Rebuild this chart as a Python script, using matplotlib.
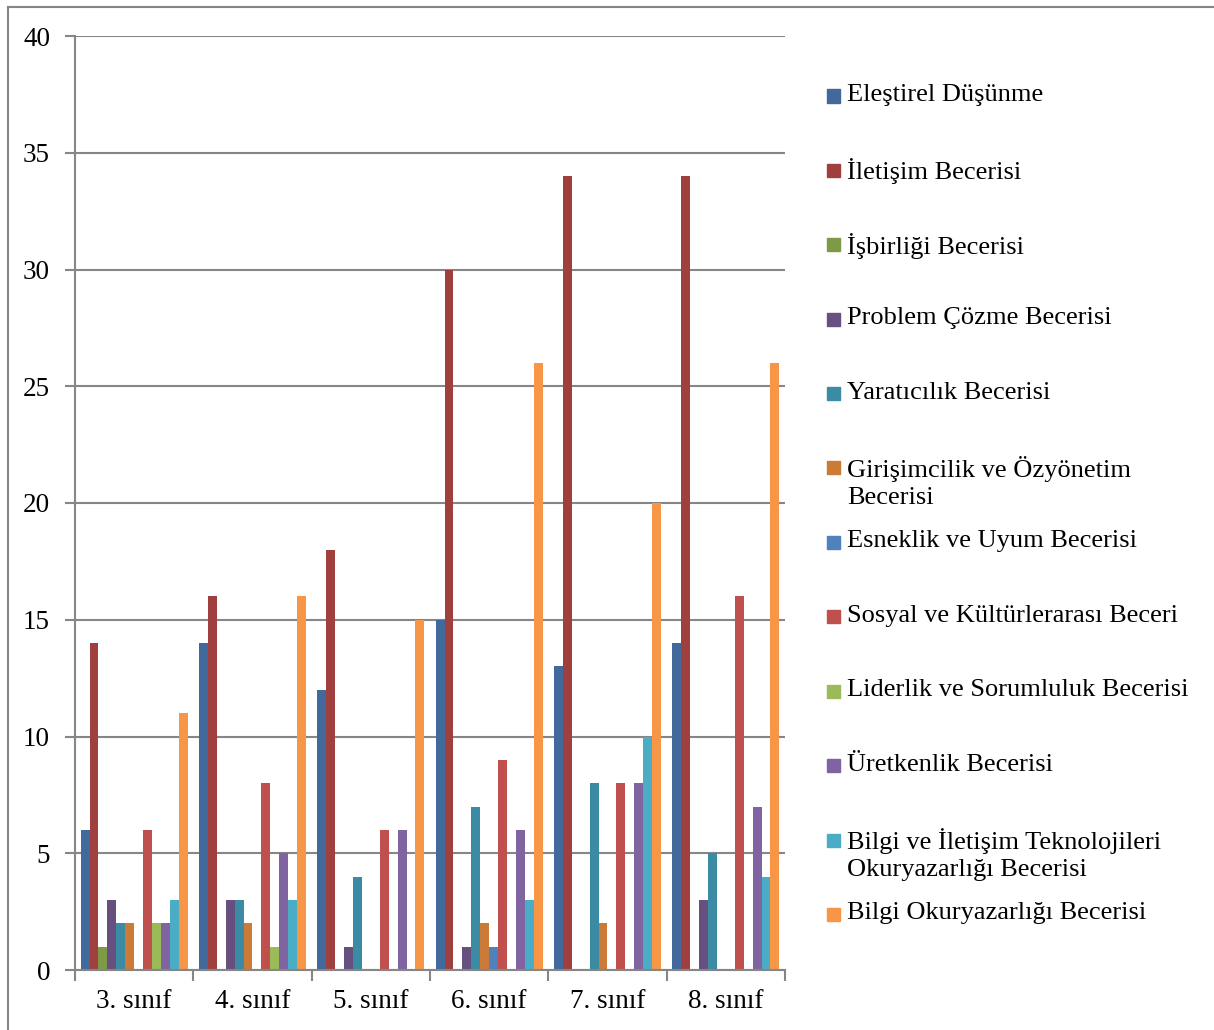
import numpy as np
import matplotlib.pyplot as plt
from matplotlib.patches import Rectangle
from matplotlib.lines import Line2D

plt.rcParams['font.family'] = ['Liberation Serif', 'DejaVu Serif']

grades = ['3. sınıf', '4. sınıf', '5. sınıf', '6. sınıf', '7. sınıf', '8. sınıf']

skills = [
    'Eleştirel Düşünme',
    'İletişim Becerisi',
    'İşbirliği Becerisi',
    'Problem Çözme Becerisi',
    'Yaratıcılık Becerisi',
    'Girişimcilik ve Özyönetim\nBecerisi',
    'Esneklik ve Uyum Becerisi',
    'Sosyal ve Kültürlerarası Beceri',
    'Liderlik ve Sorumluluk Becerisi',
    'Üretkenlik Becerisi',
    'Bilgi ve İletişim Teknolojileri\nOkuryazarlığı Becerisi',
    'Bilgi Okuryazarlığı Becerisi',
]

# one row per skill, one column per grade
elestirel = [6, 14, 12, 15, 13, 14]
iletisim = [14, 16, 18, 30, 34, 34]
isbirligi = [1, 0, 0, 0, 0, 0]
problem = [3, 3, 1, 1, 0, 3]
yaraticilik = [2, 3, 4, 7, 8, 5]
girisimcilik = [2, 2, 0, 2, 2, 0]
esneklik = [0, 0, 0, 1, 0, 0]
sosyal = [6, 8, 6, 9, 8, 16]
liderlik = [2, 1, 0, 0, 0, 0]
uretkenlik = [2, 5, 6, 6, 8, 7]
bit = [3, 3, 0, 3, 10, 4]
bilgi = [11, 16, 15, 26, 20, 26]

values = [elestirel, iletisim, isbirligi, problem, yaraticilik, girisimcilik,
          esneklik, sosyal, liderlik, uretkenlik, bit, bilgi]

colors = ['#41699B', '#9F403E', '#7E9A46', '#66507F', '#3A8BA3', '#CB7A37',
          '#4F81BD', '#C0504D', '#9BBB59', '#8064A2', '#4BACC6', '#F79646']

fig = plt.figure(figsize=(12.14, 10.30), dpi=100)
ax = fig.add_axes([75 / 1214, 60 / 1030, 710 / 1214, 934 / 1030])

x = np.arange(len(grades))
w = 0.0754
for i, (vals, c) in enumerate(zip(values, colors)):
    ax.bar(x + (i - 5.5) * w, vals, width=w, color=c, edgecolor='none', zorder=3)

ax.set_xlim(-0.5, 5.5)
ax.set_ylim(0, 40)
ax.set_yticks(range(0, 41, 5))
ax.yaxis.grid(True, color='#868686', linewidth=1.5, zorder=0)

ax.set_xticks(x)
ax.set_xticklabels(grades)
ax.set_xticks(np.arange(-0.5, 6, 1), minor=True)
ax.tick_params(axis='x', which='major', length=0, pad=14, labelsize=19.5)
ax.tick_params(axis='x', which='minor', length=8, width=1.5, color='#868686')
ax.tick_params(axis='y', length=7, width=1.5, color='#868686', pad=11, labelsize=19.5)

for s in ['top', 'right']:
    ax.spines[s].set_visible(False)
for s in ['left', 'bottom']:
    ax.spines[s].set_color('#868686')
    ax.spines[s].set_linewidth(1.5)
    ax.spines[s].set_zorder(4)

# legend built by hand so wrapped labels keep the regular spacing
top_px, step_px = 96, 74.4
for i, (name, c) in enumerate(zip(skills, colors)):
    yc = 1 - (top_px + i * step_px) / 1030
    fig.patches.append(Rectangle((827 / 1214, yc - 6.5 / 1030), 13 / 1214, 13 / 1030,
                                 transform=fig.transFigure, color=c))
    fig.text(847 / 1214, yc + 12 / 1030, name, fontsize=19, va='top', ha='left',
             linespacing=1.27)

# frame along the top and left edges
fig.add_artist(Line2D([8 / 1214, 8 / 1214], [0, 1 - 7 / 1030], transform=fig.transFigure,
                      color='#868686', linewidth=1.5))
fig.add_artist(Line2D([8 / 1214, 1213 / 1214], [1 - 7 / 1030, 1 - 7 / 1030],
                      transform=fig.transFigure, color='#868686', linewidth=1.5))

fig.savefig('out.png', dpi=100)
